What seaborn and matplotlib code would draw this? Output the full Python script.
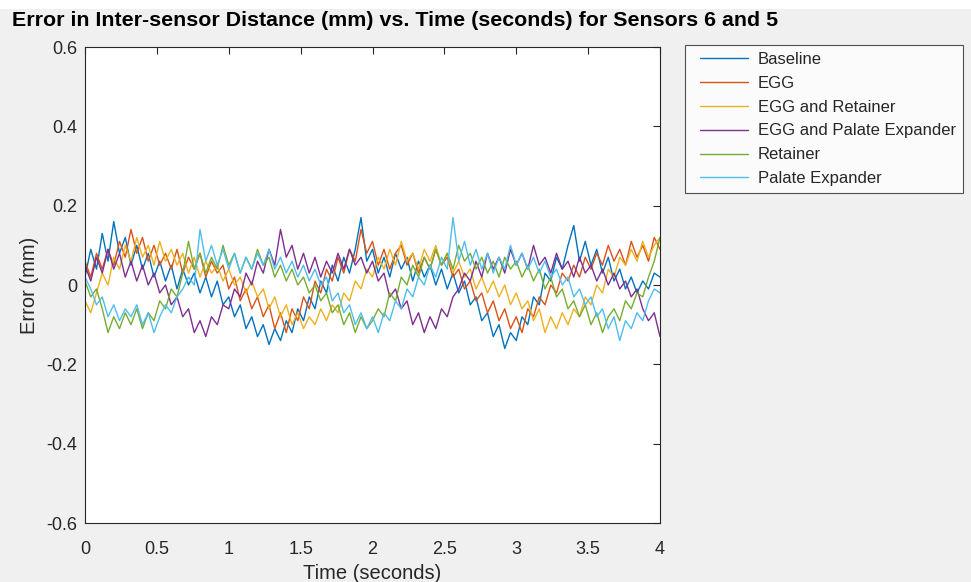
import numpy as np
import pandas as pd
import matplotlib
matplotlib.use("Agg")
import matplotlib.pyplot as plt
import seaborn as sns
from matplotlib.patches import Rectangle
from matplotlib.legend_handler import HandlerLine2D

time_s = [round(i * 0.04, 2) for i in range(101)]

series_names = ["Baseline", "EGG", "EGG and Retainer", "EGG and Palate Expander",
                "Retainer", "Palate Expander"]
series_colors = ["#0072BD", "#D95319", "#EDB120", "#7E2F8E", "#77AC30", "#4DBEEE"]

baseline = [0.02, 0.09, 0.04, 0.13, 0.06, 0.16, 0.08, 0.12, 0.05, 0.10,
            0.04, 0.08, 0.02, 0.06, 0.01, 0.05, -0.01, 0.04, 0.00, 0.03,
            -0.02, 0.02, -0.03, 0.01, -0.05, -0.03, -0.08, -0.05, -0.11, -0.08,
            -0.13, -0.10, -0.15, -0.11, -0.14, -0.09, -0.12, -0.06, -0.09, -0.03,
            -0.06, 0.01, -0.02, 0.05, 0.01, 0.07, 0.03, 0.09, 0.17, 0.06,
            0.09, 0.03, 0.07, 0.02, 0.08, 0.04, 0.07, 0.01, 0.06, 0.02,
            0.05, 0.00, 0.04, -0.01, 0.03, -0.02, 0.01, -0.05, -0.03, -0.09,
            -0.07, -0.13, -0.10, -0.16, -0.12, -0.14, -0.08, -0.10, -0.03, -0.05,
            0.03, 0.01, 0.07, 0.04, 0.10, 0.15, 0.06, 0.11, 0.05, 0.09,
            0.03, 0.07, 0.01, 0.04, -0.01, 0.02, -0.02, 0.01, -0.01, 0.03,
            0.02]

egg = [0.06, 0.02, 0.08, 0.04, 0.09, 0.05, 0.11, 0.07, 0.14, 0.08,
       0.12, 0.06, 0.10, 0.05, 0.08, 0.04, 0.09, 0.03, 0.07, 0.04,
       0.08, 0.02, 0.06, 0.03, 0.05, -0.01, 0.02, -0.04, -0.01, -0.06,
       -0.03, -0.08, -0.05, -0.11, -0.07, -0.12, -0.06, -0.09, -0.03, -0.06,
       0.01, -0.02, 0.04, 0.01, 0.07, 0.03, 0.09, 0.06, 0.14, 0.08,
       0.11, 0.05, 0.09, 0.04, 0.08, 0.10, 0.05, 0.08, 0.03, 0.07,
       0.04, 0.09, 0.05, 0.07, 0.02, 0.04, -0.01, 0.01, -0.04, -0.02,
       -0.07, -0.04, -0.09, -0.06, -0.11, -0.08, -0.12, -0.06, -0.08, -0.03,
       -0.05, 0.00, -0.02, 0.03, 0.01, 0.05, 0.02, 0.07, 0.04, 0.08,
       0.05, 0.10, 0.06, 0.09, 0.05, 0.11, 0.07, 0.10, 0.06, 0.12,
       0.09]

egg_retainer = [-0.04, -0.07, -0.02, 0.03, 0.00, 0.07, 0.04, 0.10, 0.06, 0.12,
                0.07, 0.10, 0.05, 0.11, 0.06, 0.09, 0.05, 0.08, 0.03, 0.07,
                0.02, 0.06, 0.03, 0.05, 0.01, 0.04, 0.00, 0.02, -0.02, 0.01,
                -0.03, -0.01, -0.06, -0.03, -0.08, -0.05, -0.10, -0.07, -0.11, -0.08,
                -0.10, -0.06, -0.09, -0.05, -0.07, -0.02, -0.04, 0.01, -0.01, 0.04,
                0.02, 0.07, 0.04, 0.09, 0.05, 0.11, 0.06, 0.08, 0.04, 0.09,
                0.06, 0.10, 0.05, 0.08, 0.03, 0.06, 0.02, 0.04, -0.01, 0.02,
                -0.02, 0.01, -0.03, 0.00, -0.05, -0.02, -0.06, -0.04, -0.09, -0.06,
                -0.12, -0.08, -0.11, -0.07, -0.10, -0.06, -0.08, -0.03, -0.05, 0.00,
                -0.02, 0.04, 0.02, 0.07, 0.05, 0.09, 0.06, 0.11, 0.07, 0.10,
                0.12]

egg_palate = [0.05, 0.01, 0.07, 0.03, 0.09, 0.04, 0.08, 0.02, 0.06, 0.01,
              0.05, 0.00, 0.03, -0.02, 0.00, -0.05, -0.03, -0.08, -0.06, -0.12,
              -0.09, -0.13, -0.08, -0.10, -0.05, -0.06, -0.01, -0.03, 0.03, 0.00,
              0.06, 0.03, 0.09, 0.05, 0.14, 0.07, 0.10, 0.04, 0.08, 0.03,
              0.07, 0.02, 0.06, 0.03, 0.08, 0.04, 0.09, 0.05, 0.07, 0.03,
              0.06, 0.01, 0.03, -0.03, -0.01, -0.06, -0.04, -0.10, -0.07, -0.12,
              -0.08, -0.11, -0.06, -0.08, -0.03, -0.01, 0.03, 0.01, 0.06, 0.02,
              0.08, 0.04, 0.07, 0.03, 0.09, 0.05, 0.08, 0.04, 0.10, 0.05,
              0.07, 0.03, 0.08, 0.04, 0.06, 0.02, 0.07, 0.03, 0.05, 0.01,
              0.04, 0.00, 0.03, -0.01, 0.01, -0.03, -0.01, -0.06, -0.09, -0.07,
              -0.13]

retainer = [0.01, -0.03, -0.01, -0.06, -0.12, -0.08, -0.11, -0.07, -0.10, -0.06,
            -0.11, -0.07, -0.09, -0.04, -0.06, -0.01, -0.03, 0.03, 0.11, 0.04,
            0.08, 0.03, 0.07, 0.04, 0.10, 0.05, 0.08, 0.03, 0.07, 0.04,
            0.09, 0.05, 0.07, 0.02, 0.05, 0.01, 0.04, 0.00, 0.02, -0.02,
            0.00, -0.04, -0.02, -0.07, -0.05, -0.10, -0.07, -0.12, -0.08, -0.11,
            -0.09, -0.06, -0.08, -0.02, -0.04, 0.02, 0.00, 0.05, 0.02, 0.07,
            0.04, 0.09, 0.05, 0.08, 0.04, 0.10, 0.06, 0.08, 0.04, 0.07,
            0.03, 0.06, 0.02, 0.07, 0.04, 0.06, 0.02, 0.05, 0.01, 0.04,
            -0.01, 0.02, -0.03, -0.01, -0.06, -0.04, -0.08, -0.05, -0.10, -0.07,
            -0.12, -0.08, -0.06, -0.09, -0.04, -0.06, -0.02, -0.03, 0.02, 0.06,
            0.12]

palate_expander = [0.02, -0.01, -0.05, -0.03, -0.08, -0.05, -0.09, -0.06, -0.08, -0.05,
                   -0.10, -0.07, -0.12, -0.08, -0.05, -0.07, -0.03, -0.01, 0.02, 0.00,
                   0.14, 0.06, 0.10, 0.05, 0.09, 0.04, 0.08, 0.03, 0.07, 0.04,
                   0.08, 0.05, 0.09, 0.04, 0.07, 0.03, 0.06, 0.02, 0.05, 0.01,
                   0.04, 0.00, 0.02, -0.04, -0.02, -0.07, -0.05, -0.10, -0.07, -0.11,
                   -0.08, -0.12, -0.07, -0.09, -0.04, -0.06, -0.01, -0.03, 0.02, 0.00,
                   0.05, 0.02, 0.07, 0.04, 0.17, 0.06, 0.11, 0.05, 0.09, 0.04,
                   0.08, 0.03, 0.07, 0.04, 0.10, 0.05, 0.08, 0.04, 0.07, 0.03,
                   0.06, 0.02, 0.04, 0.00, 0.02, -0.03, -0.01, -0.05, -0.03, -0.08,
                   -0.06, -0.11, -0.08, -0.14, -0.09, -0.11, -0.07, -0.09, -0.04, -0.01,
                   -0.02]

x_ticks = [0, 0.5, 1, 1.5, 2, 2.5, 3, 3.5, 4]
x_tick_labels = ["0", "0.5", "1", "1.5", "2", "2.5", "3", "3.5", "4"]
y_ticks = [-0.6, -0.4, -0.2, 0, 0.2, 0.4, 0.6]
y_tick_labels = ["-0.6", "-0.4", "-0.2", "0", "0.2", "0.4", "0.6"]

all_series = [baseline, egg, egg_retainer, egg_palate, retainer, palate_expander]
frames = []
for name, vals in zip(series_names, all_series):
    frames.append(pd.DataFrame({"Time": time_s, "Error": vals, "Series": name}))
df = pd.concat(frames, ignore_index=True)

sns.set_style("white")
plt.rcParams["font.family"] = ["Liberation Sans", "DejaVu Sans"]
plt.rcParams["axes.unicode_minus"] = False

fig = plt.figure(figsize=(9.71, 5.82), dpi=100, facecolor="#f0f0f0")
fig.patches.append(Rectangle((0, 1 - 9 / 582), 1, 9 / 582, transform=fig.transFigure,
                             facecolor="white", edgecolor="none", zorder=-1))
ax = fig.add_axes([85 / 971, 1 - 523 / 582, 575 / 971, 476 / 582])
ax.set_facecolor("white")

sns.lineplot(data=df, x="Time", y="Error", hue="Series", hue_order=series_names,
             palette=series_colors, linewidth=1.0, legend=False, ax=ax,
             estimator=None, sort=False)

ax.set_xlim(0, 4)
ax.set_ylim(-0.6, 0.6)
ax.set_xticks(x_ticks)
ax.set_xticklabels(x_tick_labels)
ax.set_yticks(y_ticks)
ax.set_yticklabels(y_tick_labels)
ax.tick_params(direction="in", length=5, width=0.8, colors="#262626",
               labelsize=13, top=True, right=True, labelcolor="#262626")
ax.tick_params(axis="x", pad=13)
ax.tick_params(axis="y", pad=5.5)
for s in ax.spines.values():
    s.set_color("#262626")
    s.set_linewidth(0.8)

ax.set_xlabel("Time (seconds)", fontsize=14.5, color="#262626", labelpad=4)
ax.set_ylabel("Error (mm)", fontsize=14.5, color="#262626", labelpad=5)

fig.text(12 / 971, 1 - 21 / 582, "Error in Inter-sensor Distance (mm) vs. Time (seconds) for Sensors 6 and 5",
         fontsize=15.4, fontweight="bold", ha="left", va="center", color="black")


class OffsetLineHandler(HandlerLine2D):
    def create_artists(self, legend, orig_handle, xdescent, ydescent, width, height,
                       fontsize, trans):
        off = 5.8
        return super().create_artists(legend, orig_handle, xdescent - off, ydescent,
                                       width - off, height, fontsize, trans)


handles = ax.get_lines()[:len(series_names)]
leg = fig.legend(handles, series_names, loc="upper left",
                 bbox_to_anchor=(685 / 971, 1 - 45 / 582), bbox_transform=fig.transFigure,
                 frameon=True, fancybox=False, fontsize=12, handlelength=3.36,
                 handletextpad=0.6, labelspacing=0.53, borderpad=0.42, borderaxespad=0,
                 handler_map={h: OffsetLineHandler() for h in handles})
leg.get_frame().set_edgecolor("#262626")
leg.get_frame().set_linewidth(0.8)
leg.get_frame().set_facecolor("white")
for t in leg.get_texts():
    t.set_color("#262626")

fig.savefig("out.png", dpi=100, facecolor=fig.get_facecolor())
